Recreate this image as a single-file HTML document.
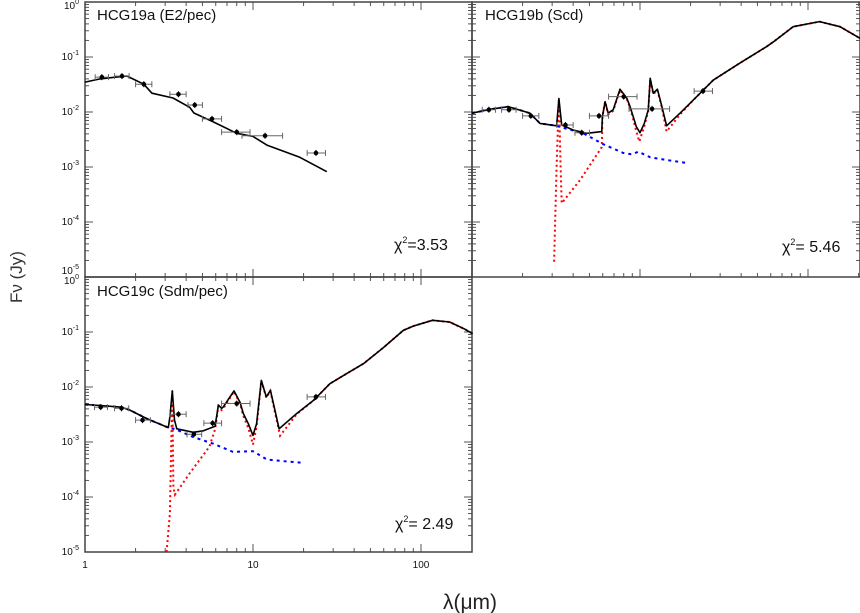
<!DOCTYPE html>
<html><head><meta charset="utf-8">
<style>
body{margin:0;background:#fff;}
svg{display:block;font-family:"Liberation Sans",sans-serif;}
</style></head>
<body>
<svg id="chart" width="860" height="613" viewBox="0 0 860 613" xmlns="http://www.w3.org/2000/svg">
<text x="22" y="277" font-size="17" fill="#333" text-anchor="middle" transform="rotate(-90 22 277)">Fν (Jy)</text>
<text x="470" y="609" font-size="21" fill="#222" text-anchor="middle">λ(μm)</text>
</svg>
<script>
// ---- data ----
var filtLam = [1.26,1.66,2.24,3.6,4.5,5.7,8.0,11.8,23.7];
var filtLo  = [1.15,1.5,2.0,3.2,4.1,5.0,6.5,8.6,21];
var filtHi  = [1.38,1.83,2.5,4.0,5.0,6.5,9.6,15,27];

var aObs = [0.043,0.045,0.032,0.021,0.0134,0.0075,0.0043,0.0037,0.0018];
var aModelLam = [1,1.23,1.51,1.78,2.24,2.5,3.34,4.2,4.45,5.8,8.0,10,12.1,19,27.5];
var aModelF = [0.035,0.040,0.043,0.045,0.032,0.022,0.018,0.0122,0.0096,0.0066,0.0041,0.0036,0.0025,0.0015,0.00082];

var bObs = [0.011,0.011,0.0085,0.0058,0.0042,0.0085,0.019,0.0114,0.024];
var bModelLam = [1,1.28,1.64,2.02,2.21,2.54,3.19,3.29,3.42,4.0,4.82,5.92,5.97,6.2,6.47,6.93,7.6,8.34,8.73,9.5,10,10.6,11.2,11.5,12.0,12.7,13.5,14.4,17.3,20.8,27.3,39.2,56.6,62.4,81.5,117,155,204];
var bModelF = [0.0095,0.0112,0.0125,0.0104,0.0095,0.0062,0.0056,0.0175,0.0058,0.0047,0.0041,0.0044,0.0082,0.0154,0.0095,0.011,0.026,0.0178,0.0125,0.0054,0.0042,0.0062,0.011,0.041,0.022,0.026,0.0125,0.0056,0.0095,0.0166,0.038,0.077,0.154,0.19,0.355,0.44,0.355,0.219];
var bStarLam = [1,1.28,1.64,2.02,2.21,2.54,3.19,3.3,4.6,6.04,7.96,8.93,9.78,11.5,14.4,19.4];
var bStarF = [0.0095,0.0112,0.0125,0.0104,0.0095,0.0062,0.0056,0.0054,0.0041,0.0026,0.0018,0.0017,0.0019,0.0015,0.00134,0.00117];
var bDustLam = [3.08,3.19,3.29,3.37,3.42,4.4,5.92,5.97,6.2,6.47,6.93,7.6,8.34,8.73,9.5,9.9,10.6,11.2,11.5,12.0,12.7,13.5,14.4,17.3,20.8,27.3,39.2,56.6,62.4,81.5,117,155,204];
var bDustF = [1.9e-5,0.00102,0.0175,0.00102,0.00022,0.00058,0.0023,0.0082,0.0154,0.009,0.0105,0.025,0.017,0.012,0.0045,0.0029,0.0055,0.0105,0.040,0.021,0.025,0.012,0.0044,0.009,0.0166,0.038,0.077,0.154,0.19,0.355,0.44,0.355,0.219];

var cObsLam = [1.24,1.65,2.2,3.6,4.45,5.75,8.0,23.7];
var cObsLo  = [1.14,1.5,2.0,3.2,4.05,5.1,6.5,21];
var cObsHi  = [1.36,1.82,2.45,4.0,4.95,6.5,9.6,27];
var cObs = [0.0043,0.0041,0.0025,0.0032,0.00138,0.0022,0.005,0.0066];
var cModelLam = [1,1.23,1.65,1.85,2.33,3.13,3.2,3.31,3.41,3.52,4.41,5.07,5.95,6.22,6.5,6.64,7.71,8.37,8.76,9.37,10,10.5,11.2,12,12.7,13.5,14.3,18.2,22.9,28.7,36.1,45.4,59.7,78.5,89.9,117,148,180,203];
var cModelF = [0.0048,0.0046,0.0043,0.0038,0.00266,0.00183,0.00286,0.0085,0.0025,0.00174,0.0015,0.0016,0.00193,0.0047,0.0041,0.0043,0.0085,0.0053,0.0033,0.00215,0.00132,0.00215,0.0132,0.0066,0.0087,0.0038,0.00174,0.0033,0.0057,0.0115,0.0175,0.0265,0.052,0.107,0.128,0.163,0.152,0.115,0.093];
var cStarLam = [1,1.23,1.65,1.85,2.33,3.13,3.41,4.41,5.8,7.6,10,12.1,15,19.5];
var cStarF = [0.0048,0.0046,0.0043,0.0038,0.00266,0.00183,0.00174,0.00123,0.00093,0.00066,0.00068,0.00048,0.00045,0.00042];
var cDustLam = [3.06,3.2,3.31,3.36,3.43,4.2,5.5,5.95,6.22,6.5,6.64,7.71,8.37,8.76,9.37,10,10.5,11.2,12,12.7,13.5,14.5,18.2,22.9,28.7,36.1,45.4,59.7,78.5,89.9,117,148,180,203];
var cDustF = [1e-5,5e-5,0.0085,1.5e-4,1.1e-4,2.7e-4,8.2e-4,0.0017,0.0045,0.0038,0.0040,0.0083,0.005,0.003,0.0018,0.0009,0.0019,0.013,0.0064,0.0085,0.0035,0.0013,0.0032,0.0057,0.0115,0.0175,0.0265,0.052,0.107,0.128,0.163,0.152,0.115,0.093];

var yTickLabels = ["0","-1","-2","-3","-4","-5"];
var xTickLabels = ["1","10","100"];

// ---- drawing ----
var NS = "http://www.w3.org/2000/svg";
var svg = document.getElementById('chart');
var DEC_X = 168, DEC_Y = 55;
function mk(tag, attrs, parent){ var e=document.createElementNS(NS,tag); for(var k in attrs) e.setAttribute(k,attrs[k]); (parent||svg).appendChild(e); return e; }

function makePanel(name, left, right, top, bottom){
  var g = mk('g',{});
  
  
  var p = {g:g,left:left,right:right,top:top,bottom:bottom,
    x:function(l){return left + DEC_X*Math.log10(l);},
    y:function(f){return top - DEC_Y*Math.log10(f);}};
  var tk = mk('g',{stroke:'#555','stroke-width':1},g);
  
  
  for(var d=0; d<3; d++) for(var m=1; m<10; m++){
    var xv = p.x(m*Math.pow(10,d)); if(xv>right-0.5) continue;
    var len = m===1?8:4;
    mk('line',{x1:xv,x2:xv,y1:bottom,y2:bottom-len},tk);
    mk('line',{x1:xv,x2:xv,y1:top,y2:top+len},tk);
  }
  for(var e=0; e>=-5; e--) for(var m2=1; m2<10; m2++){
    var yv = p.y(m2*Math.pow(10,e)); if(yv<top-0.5||yv>bottom+0.5) continue;
    var len2 = m2===1?8:4;
    mk('line',{x1:left,x2:left+len2,y1:yv,y2:yv},tk);
    mk('line',{x1:right,x2:right-len2,y1:yv,y2:yv},tk);
  }
  var fr = mk('rect',{x:left,y:top,width:right-left,height:bottom-top,fill:'none',stroke:'#444','stroke-width':1.5},g);
  
  
  return p;
}
function line(p, lam, f, style, nm){
  var pts = lam.map(function(l,i){return p.x(l).toFixed(1)+','+p.y(f[i]).toFixed(1);}).join(' ');
  var e = mk('polyline',Object.assign({points:pts,fill:'none'},style),p.g);
  
  
}
function points(p, lam, lo, hi, f, nm){
  var g = mk('g',{stroke:'#666','stroke-width':1},p.g);
  
  
  lam.forEach(function(l,i){
    var cx=p.x(l), cy=p.y(f[i]), x1=p.x(lo[i]), x2=p.x(hi[i]);
    mk('line',{x1:x1,x2:x2,y1:cy,y2:cy},g);
    mk('line',{x1:x1,x2:x1,y1:cy-3,y2:cy+3},g);
    mk('line',{x1:x2,x2:x2,y1:cy-3,y2:cy+3},g);
    mk('line',{x1:cx,x2:cx,y1:cy-3,y2:cy+3,stroke:'#000'},g);
    var c = mk('circle',{cx:cx,cy:cy,r:2.3,fill:'#000',stroke:'none'},g);
    
    
  });
}
function text(x,y,s,size,nm,anchor){
  var t = mk('text',{x:x,y:y,'font-size':size,fill:'#111','text-anchor':anchor||'start'});
  
  
  t.innerHTML = s; return t;
}

var blackS = {stroke:'#000','stroke-width':1.6,'stroke-linejoin':'round'};
var blueS = {stroke:'#0000ff','stroke-width':2,'stroke-dasharray':'3,4'};
var redS = {stroke:'#ff0000','stroke-width':2,'stroke-dasharray':'2,3'};

var pa = makePanel('panel-hcg19a', 85, 472, 2, 277);
line(pa, aModelLam, aModelF, blackS, 'model-line-a');
points(pa, filtLam, filtLo, filtHi, aObs, 'observed-a');

var pb = makePanel('panel-hcg19b', 472, 860, 2, 277);
line(pb, bDustLam, bDustF, redS, 'dust-line-b');
line(pb, bStarLam, bStarF, blueS, 'stellar-line-b');
line(pb, bModelLam, bModelF, blackS, 'model-line-b');
points(pb, filtLam, filtLo, filtHi, bObs, 'observed-b');

var pc = makePanel('panel-hcg19c', 85, 472, 277, 552);
line(pc, cDustLam, cDustF, redS, 'dust-line-c');
line(pc, cStarLam, cStarF, blueS, 'stellar-line-c');
line(pc, cModelLam, cModelF, blackS, 'model-line-c');
points(pc, cObsLam, cObsLo, cObsHi, cObs, 'observed-c');

// tick labels
[pa,pc].forEach(function(p,pi){
  yTickLabels.forEach(function(s,i){
    var yy = p.y(Math.pow(10,-i));
    var off = 3;
    if(i===0) off = 7;
    if(i===yTickLabels.length-1 && pi===0) off = -3;
    text(79, yy+off, '10<tspan font-size="7" dy="-5">'+s+'</tspan>', 10, 'y-tick-label', 'end');
  });
});
xTickLabels.forEach(function(s,i){
  text(pc.x(Math.pow(10,i)), 568, s, 10, 'x-tick-label', 'middle');
});

text(97, 20, 'HCG19a (E2/pec)', 15, 'panel-title-a');
text(485, 20, 'HCG19b (Scd)', 15, 'panel-title-b');
text(97, 296, 'HCG19c (Sdm/pec)', 15, 'panel-title-c');
text(394, 250, 'χ<tspan font-size="9" dy="-7">2</tspan><tspan dy="7">=3.53</tspan>', 16, 'chi2-a');
text(782, 252, 'χ<tspan font-size="9" dy="-7">2</tspan><tspan dy="7">= 5.46</tspan>', 16, 'chi2-b');
text(395, 529, 'χ<tspan font-size="9" dy="-7">2</tspan><tspan dy="7">= 2.49</tspan>', 16, 'chi2-c');
</script>
</body></html>
